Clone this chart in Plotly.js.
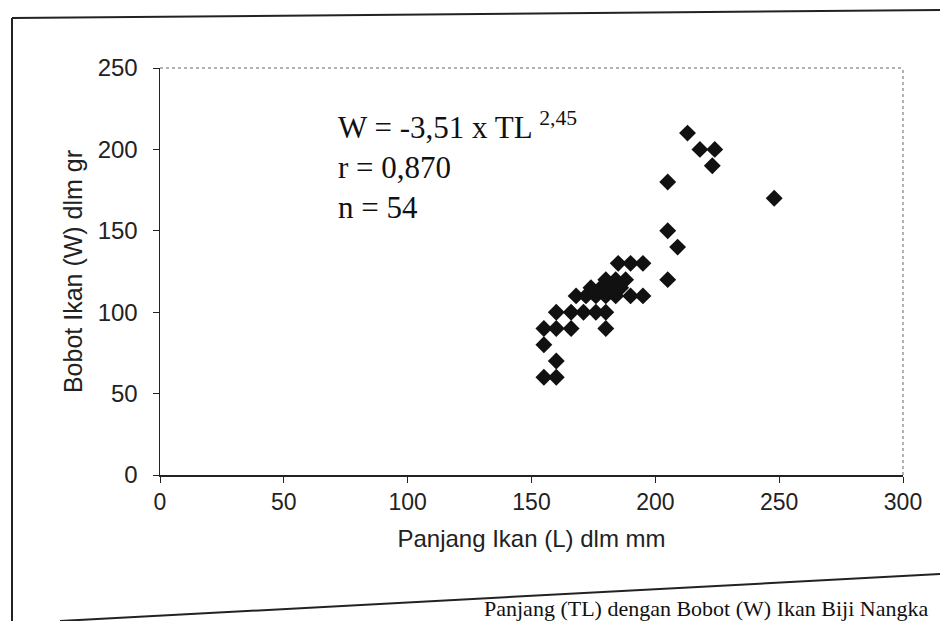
<!DOCTYPE html>
<html>
<head>
<meta charset="utf-8">
<script src="https://cdn.plot.ly/plotly-3.0.1.min.js"></script>
<style>html,body{margin:0;padding:0;background:#fff;}#chart{width:940px;height:621px;}</style>
</head>
<body>
<div id="chart"></div>
<script>
// Panjang ikan (L, mm) and bobot ikan (W, gr)
const panjang = [155,160,160,155,155,160,166,180,160,166,171,176,180,168,172,176,180,184,190,195,174,178,182,186,180,184,188,185,190,195,205,209,205,205,213,218,224,223,248];
const bobot   = [ 60, 60, 70, 80, 90, 90, 90, 90,100,100,100,100,100,110,110,110,110,110,110,110,115,115,115,115,120,120,120,130,130,130,120,140,150,180,210,200,200,190,170];
const xTicks = [0,50,100,150,200,250,300];
const yTicks = [0,50,100,150,200,250];

const W = 940, H = 621, L = 160, R = 37, T = 68, B = 146;
const pw = W - L - R, ph = H - T - B;
const px = v => (v - L) / pw;          // pixel -> paper x
const py = v => (H - B - v) / ph;      // pixel -> paper y

const trace = {
  x: panjang, y: bobot, type: 'scatter', mode: 'markers',
  marker: {symbol: 'diamond', size: 13, color: '#111'},
  hoverinfo: 'x+y', showlegend: false
};

const sans = 'Liberation Sans, Arial, sans-serif';
const serif = 'Liberation Serif, Times New Roman, serif';

const layout = {
  width: W, height: H,
  margin: {l: L, r: R, t: T, b: B},
  paper_bgcolor: '#fff', plot_bgcolor: '#fff',
  xaxis: {
    range: [0, 300], tickvals: xTicks, ticktext: xTicks.map(String),
    ticks: 'outside', ticklen: 6, tickcolor: '#222',
    showline: true, linecolor: '#222', linewidth: 1.5,
    showgrid: false, zeroline: false,
    tickfont: {family: sans, size: 23, color: '#222'},
    title: {text: 'Panjang Ikan (L) dlm mm', font: {family: sans, size: 24, color: '#222'}, standoff: 16}
  },
  yaxis: {
    range: [0, 250], tickvals: yTicks, ticktext: yTicks.map(String),
    ticks: 'outside', ticklen: 6, tickcolor: '#222',
    showline: true, linecolor: '#222', linewidth: 1.5,
    showgrid: false, zeroline: false,
    tickfont: {family: sans, size: 24, color: '#222'},
    ticklabelstandoff: 10,
    title: {text: 'Bobot Ikan (W) dlm gr', font: {family: sans, size: 25, color: '#222'}, standoff: 8}
  },
  shapes: [
    {type: 'line', xref: 'paper', yref: 'paper', x0: 0, y0: 1, x1: 1, y1: 1, line: {color: '#666', width: 1, dash: 'dot'}},
    {type: 'line', xref: 'paper', yref: 'paper', x0: 1, y0: 0, x1: 1, y1: 1, line: {color: '#666', width: 1, dash: 'dot'}},
    {type: 'line', xref: 'paper', yref: 'paper', x0: px(12), y0: py(18), x1: px(12), y1: py(625), line: {color: '#222', width: 2}},
    {type: 'line', xref: 'paper', yref: 'paper', x0: px(12), y0: py(18), x1: px(940), y1: py(10), line: {color: '#222', width: 2}},
    {type: 'line', xref: 'paper', yref: 'paper', x0: px(60), y0: py(621), x1: px(940), y1: py(574), line: {color: '#222', width: 2}}
  ],
  annotations: [
    {xref: 'paper', yref: 'paper', x: px(336), y: py(125), xanchor: 'left', yanchor: 'middle', showarrow: false,
     text: 'W = -3,51 x TL <sup>2,45</sup>', font: {family: serif, size: 31, color: '#111'}},
    {xref: 'paper', yref: 'paper', x: px(336), y: py(167), xanchor: 'left', yanchor: 'middle', showarrow: false,
     text: 'r = 0,870', font: {family: serif, size: 31, color: '#111'}},
    {xref: 'paper', yref: 'paper', x: px(336), y: py(208), xanchor: 'left', yanchor: 'middle', showarrow: false,
     text: 'n = 54', font: {family: serif, size: 31, color: '#111'}},
    {xref: 'paper', yref: 'paper', x: px(482), y: py(608), xanchor: 'left', yanchor: 'middle', showarrow: false,
     text: 'Panjang (TL) dengan Bobot (W) Ikan Biji Nangka', font: {family: serif, size: 22, color: '#111'}}
  ]
};

Plotly.newPlot('chart', [trace], layout, {displayModeBar: false, staticPlot: true});
</script>
</body>
</html>
